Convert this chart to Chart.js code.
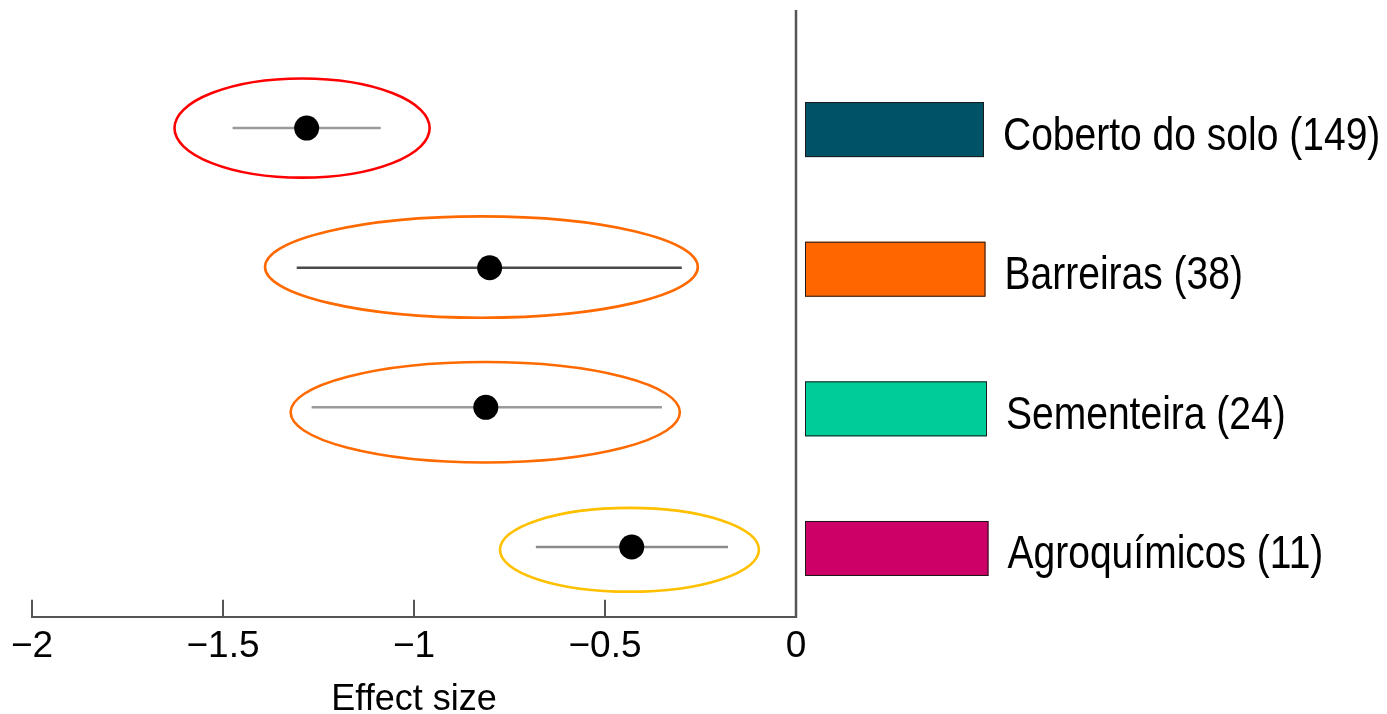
<!DOCTYPE html>
<html>
<head>
<meta charset="utf-8">
<script src="https://cdn.jsdelivr.net/npm/chart.js@4/dist/chart.umd.min.js"></script>
<style>
  html, body { margin: 0; padding: 0; background: #ffffff; }
  #wrap { width: 1387px; height: 714px; }
</style>
</head>
<body>
<div id="wrap"><canvas id="c" width="1387" height="714"></canvas></div>
<script>
// ---- data ----
const categories = ['Coberto do solo', 'Barreiras', 'Sementeira', 'Agroquímicos'];
const studyCounts = [149, 38, 24, 11];
const rows = [1, 2, 3, 4];
const effectMean = [-1.281, -0.802, -0.812, -0.430];
const ciLow = [-1.475, -1.307, -1.268, -0.681];
const ciHigh = [-1.087, -0.299, -0.351, -0.178];
const ellipseLeft = [-1.627, -1.390, -1.323, -0.775];
const ellipseRight = [-0.959, -0.257, -0.304, -0.097];
const ellipseRow = [1.0, 1.995, 3.035, 4.02];
const ellipseHalfHeight = [0.355, 0.363, 0.36, 0.30];
const xTicks = [-2, -1.5, -1, -0.5, 0];

// ---- styles ----
const ellipseColors = ['#ff0000', '#ff6a00', '#ff6a00', '#ffc000'];
const ciColors = ['#9a9a9a', '#4a4a4a', '#9a9a9a', '#8a8a8a'];
const legendColors = ['#005366', '#ff6600', '#00cc99', '#cc0066'];
const axisColor = '#555555';
const FONT = "'Liberation Sans', Arial, Helvetica, sans-serif";

const datasets = [{
  type: 'scatter',
  label: 'mean',
  data: rows.map((r, i) => ({ x: effectMean[i], y: r })),
  pointRadius: 12.5,
  pointBackgroundColor: '#000000',
  pointBorderWidth: 0,
  order: 0
}];
rows.forEach((r, i) => {
  datasets.push({
    type: 'line',
    label: 'ci' + i,
    data: [{ x: ciLow[i], y: r }, { x: ciHigh[i], y: r }],
    borderColor: ciColors[i],
    borderWidth: 2.5,
    pointRadius: 0,
    fill: false,
    order: 1
  });
});

const decorPlugin = {
  id: 'decor',
  beforeDatasetsDraw(chart) {
    const ctx = chart.ctx, xs = chart.scales.x, ys = chart.scales.y;
    ctx.save();
    rows.forEach((r, i) => {
      const x1 = xs.getPixelForValue(ellipseLeft[i]);
      const x2 = xs.getPixelForValue(ellipseRight[i]);
      const cy = ys.getPixelForValue(ellipseRow[i]);
      const ry = Math.abs(ys.getPixelForValue(ellipseRow[i] + ellipseHalfHeight[i]) - cy);
      ctx.beginPath();
      ctx.ellipse((x1 + x2) / 2, cy, (x2 - x1) / 2, ry, 0, 0, Math.PI * 2);
      ctx.strokeStyle = ellipseColors[i];
      ctx.lineWidth = 2.6;
      ctx.stroke();
    });
    ctx.restore();
  },
  afterDraw(chart) {
    const ctx = chart.ctx, xs = chart.scales.x, ys = chart.scales.y, area = chart.chartArea;
    ctx.save();
    // tick marks pointing up from the axis line
    ctx.strokeStyle = axisColor;
    ctx.lineWidth = 2;
    xs.ticks.forEach(t => {
      const px = Math.round(xs.getPixelForValue(t.value));
      ctx.beginPath();
      ctx.moveTo(px, area.bottom);
      ctx.lineTo(px, area.bottom - 17);
      ctx.stroke();
    });
    // vertical zero line
    const zx = xs.getPixelForValue(0);
    ctx.lineWidth = 2.5;
    ctx.beginPath();
    ctx.moveTo(zx, area.top + 2);
    ctx.lineTo(zx, area.bottom + 1);
    ctx.stroke();
    // legend boxes and labels aligned to the rows
    rows.forEach((r, i) => {
      const cy = ys.getPixelForValue(r) + 1.5;
      const bx = zx + 9;
      const bw = 179 + i * 1.5;
      const bh = 55;
      ctx.fillStyle = legendColors[i];
      ctx.fillRect(bx, cy - bh / 2, bw, bh);
      ctx.strokeStyle = '#1a1a1a';
      ctx.lineWidth = 1;
      ctx.strokeRect(bx + 0.5, cy - bh / 2 + 0.5, bw - 1, bh - 1);
      ctx.save();
      ctx.translate(bx + bw + 19, cy + 7);
      ctx.scale(0.83, 1);
      ctx.fillStyle = '#000000';
      ctx.font = '47px ' + FONT;
      ctx.textBaseline = 'middle';
      ctx.textAlign = 'left';
      ctx.fillText(categories[i] + ' (' + studyCounts[i] + ')', 0, 0);
      ctx.restore();
    });
    ctx.restore();
  }
};

new Chart(document.getElementById('c'), {
  type: 'scatter',
  data: { datasets },
  plugins: [decorPlugin],
  options: {
    responsive: false,
    devicePixelRatio: 1,
    animation: false,
    events: [],
    layout: { autoPadding: false, padding: { left: 32, right: 591, top: 8, bottom: 0 } },
    plugins: { legend: { display: false }, tooltip: { enabled: false } },
    scales: {
      x: {
        type: 'linear',
        position: 'bottom',
        min: -2,
        max: 0,
        afterBuildTicks(scale) { scale.ticks = xTicks.map(v => ({ value: v })); },
        ticks: {
          color: '#000000',
          font: { family: FONT, size: 37 },
          padding: 8,
          maxRotation: 0,
          autoSkip: false,
          callback: v => (v < 0 ? '\u2212' + String(Math.abs(v)) : String(v))
        },
        grid: { display: true, drawOnChartArea: false, drawTicks: false, color: 'rgba(0,0,0,0)' },
        border: { display: true, color: axisColor, width: 2 },
        title: {
          display: true,
          text: 'Effect size',
          color: '#000000',
          font: { family: FONT, size: 36, lineHeight: 0.8 },
          padding: { top: 8, bottom: 0 }
        }
      },
      y: {
        type: 'linear',
        display: false,
        min: 0.14,
        max: 4.5,
        reverse: true
      }
    }
  }
});
</script>
</body>
</html>
